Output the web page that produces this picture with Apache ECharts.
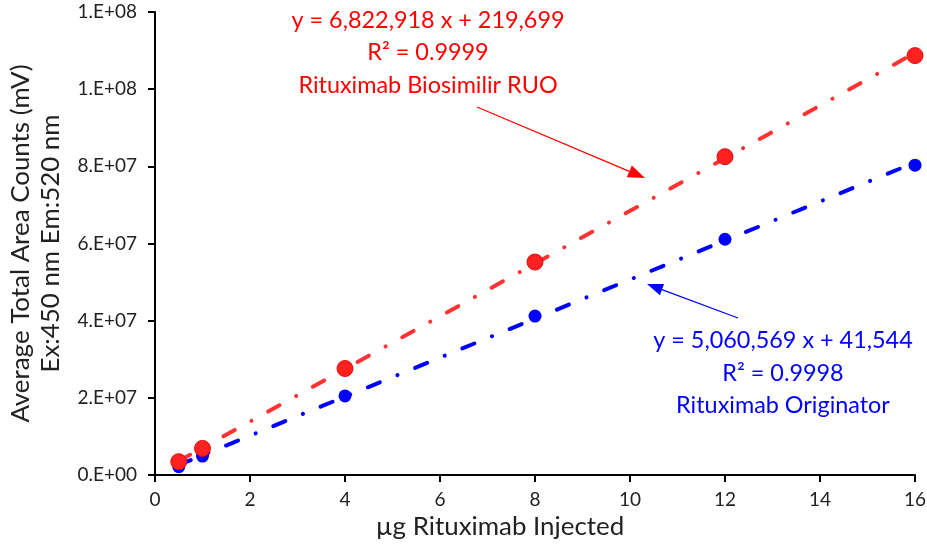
<!DOCTYPE html>
<html>
<head>
<meta charset="utf-8">
<script src="https://cdn.jsdelivr.net/npm/echarts@6/dist/echarts.min.js"></script>
<style>
html,body{margin:0;padding:0;background:#fff;}
#chart{width:927px;height:546px;}
</style>
</head>
<body>
<div id="chart"></div>
<script>
// ---- data ----
const xValues = [0.5, 1, 4, 8, 12, 16];
const biosimilarValues = [3.45e6, 6.9e6, 27.6e6, 55.2e6, 82.5e6, 108.7e6];
const originatorValues = [2.15e6, 4.9e6, 20.5e6, 41.2e6, 61.1e6, 80.3e6];
const trendX = [0.5, 16];
const biosimilarTrend = [3.6e6, 109.4e6];
const originatorTrend = [2.6e6, 81.0e6];
const yTickLabels = ['0.E+00', '2.E+07', '4.E+07', '6.E+07', '8.E+07', '1.E+08', '1.E+08'];
const xTickLabels = ['0', '2', '4', '6', '8', '10', '12', '14', '16'];
const biosimilarText = ['y = 6,822,918 x + 219,699', 'R\u00b2 = 0.9999', 'Rituximab Biosimilir RUO'];
const originatorText = ['y = 5,060,569 x + 41,544', 'R\u00b2 = 0.9998', 'Rituximab Originator'];
const xTitle = '\u00b5g Rituximab Injected';
const yTitleLines = ['Average Total Area Counts (mV)', 'Ex:450 nm Em:520 nm'];

const FONT = 'Lato';
const RED = '#ff2020';
const BLUE = '#0000ff';

function pairs(xs, ys) { return xs.map((x, i) => [x, ys[i]]); }

// font sizes fitted so that text widths match the reference picture
const mctx = document.createElement('canvas').getContext('2d');
function fit(text, targetWidth) {
  mctx.font = '100px ' + FONT;
  return Math.round(1000 * targetWidth / mctx.measureText(text).width) / 10;
}
const annSize = (fit(biosimilarText[0], 273) + fit(originatorText[0], 260)) / 2;
const titleSize = (fit(yTitleLines[0], 370) + fit(xTitle, 241)) / 2;
const tickSize = 19;

const chart = echarts.init(document.getElementById('chart'), null, {renderer: 'canvas'});

function arrow(x1, y1, x2, y2, color, headLen, headW) {
  const dx = x2 - x1, dy = y2 - y1;
  const len = Math.sqrt(dx * dx + dy * dy);
  const ux = dx / len, uy = dy / len;
  const bx = x2 - ux * headLen, by = y2 - uy * headLen;
  const px = -uy * headW / 2, py = ux * headW / 2;
  return [
    {type: 'line', shape: {x1: x1, y1: y1, x2: bx, y2: by}, style: {stroke: color, lineWidth: 1.3}, z: 50},
    {type: 'polygon', shape: {points: [[x2, y2], [bx + px, by + py], [bx - px, by - py]]}, style: {fill: color}, z: 50}
  ];
}

function textBlock(lines, cx, ys, color) {
  return lines.map((t, i) => ({
    type: 'text', x: cx, y: ys[i], z: 50,
    style: {text: t, fill: color, font: annSize + 'px ' + FONT, align: 'center', verticalAlign: 'middle'}
  }));
}

const dash = [13, 19, 0.1, 19];

chart.setOption({
  animation: false,
  backgroundColor: '#fff',
  grid: {left: 155, right: 12, top: 12, bottom: 71, containLabel: false, outerBoundsMode: 'none'},
  xAxis: {
    type: 'value', min: 0, max: 16, interval: 2,
    axisLine: {show: true, onZero: false, lineStyle: {color: '#000', width: 2}},
    axisTick: {show: true, inside: false, length: 7, lineStyle: {color: '#000', width: 2}},
    splitLine: {show: false},
    axisLabel: {color: '#222', fontFamily: FONT, fontSize: tickSize, margin: 15,
      formatter: (v) => xTickLabels[Math.round(v / 2)]},
    name: xTitle, nameLocation: 'middle', nameGap: 36,
    nameTextStyle: {color: '#222', fontFamily: FONT, fontSize: titleSize, padding: [0, 70, 0, 0]}
  },
  yAxis: {
    type: 'value', min: 0, max: 1.2e8, interval: 2e7,
    axisLine: {show: true, lineStyle: {color: '#000', width: 2}},
    axisTick: {show: true, inside: false, length: 7, lineStyle: {color: '#000', width: 2}},
    splitLine: {show: false},
    axisLabel: {color: '#222', fontFamily: FONT, fontSize: tickSize, margin: 18,
      formatter: (v) => yTickLabels[Math.round(v / 2e7)]},
    name: yTitleLines.join('\n'), nameLocation: 'middle', nameGap: 89, nameRotate: 90,
    nameTextStyle: {color: '#222', fontFamily: FONT, fontSize: titleSize, lineHeight: 30, align: 'center'}
  },
  series: [
    {
      name: 'Biosimilar trend', type: 'line', data: pairs(trendX, biosimilarTrend),
      symbol: 'none', z: 2,
      lineStyle: {color: '#ff3333', width: 4, type: dash, cap: 'round'}
    },
    {
      name: 'Originator trend', type: 'line', data: pairs(trendX, originatorTrend),
      symbol: 'none', z: 2,
      lineStyle: {color: BLUE, width: 4, type: dash, cap: 'round'}
    },
    {
      name: 'Rituximab Biosimilir RUO', type: 'scatter', data: pairs(xValues, biosimilarValues),
      symbol: 'circle', symbolSize: 16, z: 4,
      itemStyle: {color: RED, borderColor: '#e01010', borderWidth: 1, opacity: 1}
    },
    {
      name: 'Rituximab Originator', type: 'scatter', data: pairs(xValues, originatorValues),
      symbol: 'circle', symbolSize: 13, z: 3,
      itemStyle: {color: BLUE, opacity: 1}
    }
  ],
  graphic: [].concat(
    textBlock(biosimilarText, 428, [20, 52, 85], '#ff0000'),
    textBlock(originatorText, 783, [340, 373, 405], BLUE),
    arrow(477, 107, 645, 178, '#ff0000', 17, 13),
    arrow(738, 318, 647, 284, BLUE, 16, 12)
  )
});
</script>
</body>
</html>
